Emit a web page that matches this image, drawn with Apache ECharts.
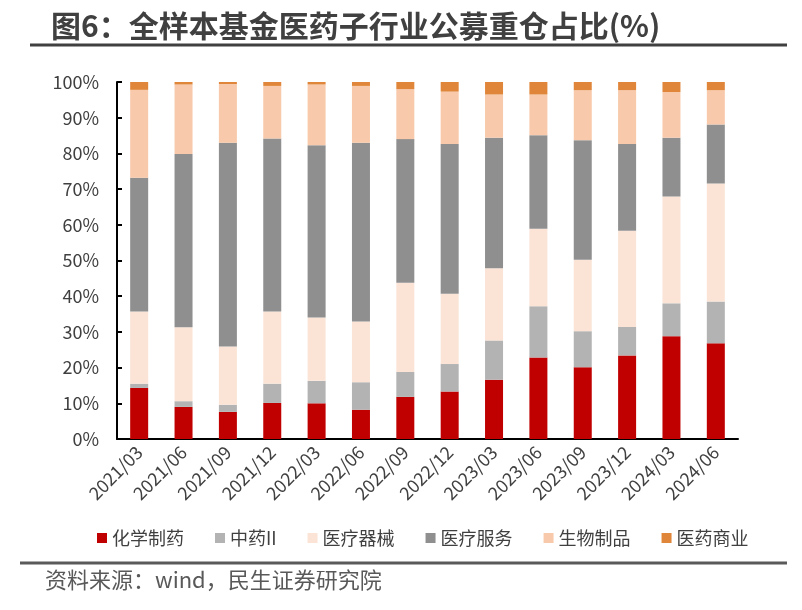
<!DOCTYPE html>
<html>
<head>
<meta charset="utf-8">
<script src="https://cdn.jsdelivr.net/npm/echarts@6/dist/echarts.min.js"></script>
<style>
html,body{margin:0;padding:0;background:#fff;}
#c{width:802px;height:610px;}
</style>
</head>
<body>
<div id="c"></div>
<script>
var categories = ['2021/03','2021/06','2021/09','2021/12','2022/03','2022/06','2022/09','2022/12','2023/03','2023/06','2023/09','2023/12','2024/03','2024/06'];
var chemPharma   = [14.3, 9.0, 7.6, 10.1, 10.0, 8.2, 11.8, 13.3, 16.6, 22.8, 20.1, 23.4, 28.8, 26.8];
var tcm          = [1.2, 1.6, 2.0, 5.4, 6.3, 7.7, 7.0, 7.7, 11.0, 14.4, 10.1, 8.0, 9.2, 11.7];
var devices      = [20.2, 20.7, 16.3, 20.2, 17.7, 17.0, 25.0, 19.7, 20.2, 21.7, 20.0, 26.9, 29.9, 33.1];
var services     = [37.5, 48.5, 57.1, 48.5, 48.3, 50.1, 40.2, 41.9, 36.6, 26.2, 33.5, 24.3, 16.5, 16.5];
var biologics    = [24.6, 19.5, 16.4, 14.7, 17.0, 15.9, 14.0, 14.7, 12.1, 11.4, 14.0, 15.1, 12.8, 9.6];
var distribution = [2.2, 0.7, 0.6, 1.1, 0.7, 1.1, 2.0, 2.7, 3.5, 3.5, 2.3, 2.3, 2.8, 2.3];
var seriesNames = ['化学制药','中药II','医疗器械','医疗服务','生物制品','医药商业'];
var yTicks = [0,10,20,30,40,50,60,70,80,90,100];

var colors = ['#C00000','#B3B3B3','#FBE4D6','#8F8F8F','#F8C9AA','#E0863A'];
var dataSets = [chemPharma, tcm, devices, services, biologics, distribution];
var FONT = '"Noto Sans CJK SC", "Noto Sans", sans-serif';

var chart = echarts.init(document.getElementById('c'), null, {renderer:'canvas'});
var series = seriesNames.map(function(n, i){
  return {
    name: n, type: 'bar', stack: 'total', barWidth: 18,
    itemStyle: {color: colors[i]},
    data: dataSets[i]
  };
});
chart.setOption({
  animation: false,
  backgroundColor: '#fff',
  title: {
    text: '图6：全样本基金医药子行业公募重仓占比(%)',
    left: 46, top: 6,
    textStyle: {fontFamily: FONT, fontSize: 30, fontWeight: 'bold', color: '#404040'}
  },
  graphic: [
    {type:'line', shape:{x1:30,y1:45,x2:787,y2:45}, style:{stroke:'#404040', lineWidth:3}},
    {type:'line', shape:{x1:20,y1:563,x2:787,y2:563}, style:{stroke:'#5a5a5a', lineWidth:3}},
    {type:'text', left: 45, top: 569, style:{text:'资料来源：wind，民生证券研究院', fontFamily: FONT, fontSize: 22, fill:'#595959'}}
  ],
  legend: {
    data: seriesNames,
    left: 92, top: 524,
    itemWidth: 10, itemHeight: 10, itemGap: 31,
    icon: 'rect',
    textStyle: {fontFamily: FONT, fontSize: 18, color: '#404040'}
  },
  grid: {left: 117, right: 64, top: 82, bottom: 171},
  xAxis: {
    type: 'category', data: categories,
    axisLine: {lineStyle: {color: '#000', width: 2}},
    axisTick: {show: false},
    axisLabel: {rotate: 45, margin: 10, fontFamily: FONT, fontSize: 18, color: '#404040', interval: 0}
  },
  yAxis: {
    type: 'value', min: 0, max: 100, interval: 10,
    axisLine: {show: true, lineStyle: {color: '#000', width: 2}},
    axisTick: {show: true, inside: true, length: 5, lineStyle: {color:'#000', width: 2}},
    splitLine: {show: false},
    axisLabel: {fontFamily: FONT, fontSize: 18, color: '#404040', margin: 18,
      formatter: function(v){ return yTicks.indexOf(v) >= 0 ? v + '%' : ''; }}
  },
  series: series
});
</script>
</body>
</html>
